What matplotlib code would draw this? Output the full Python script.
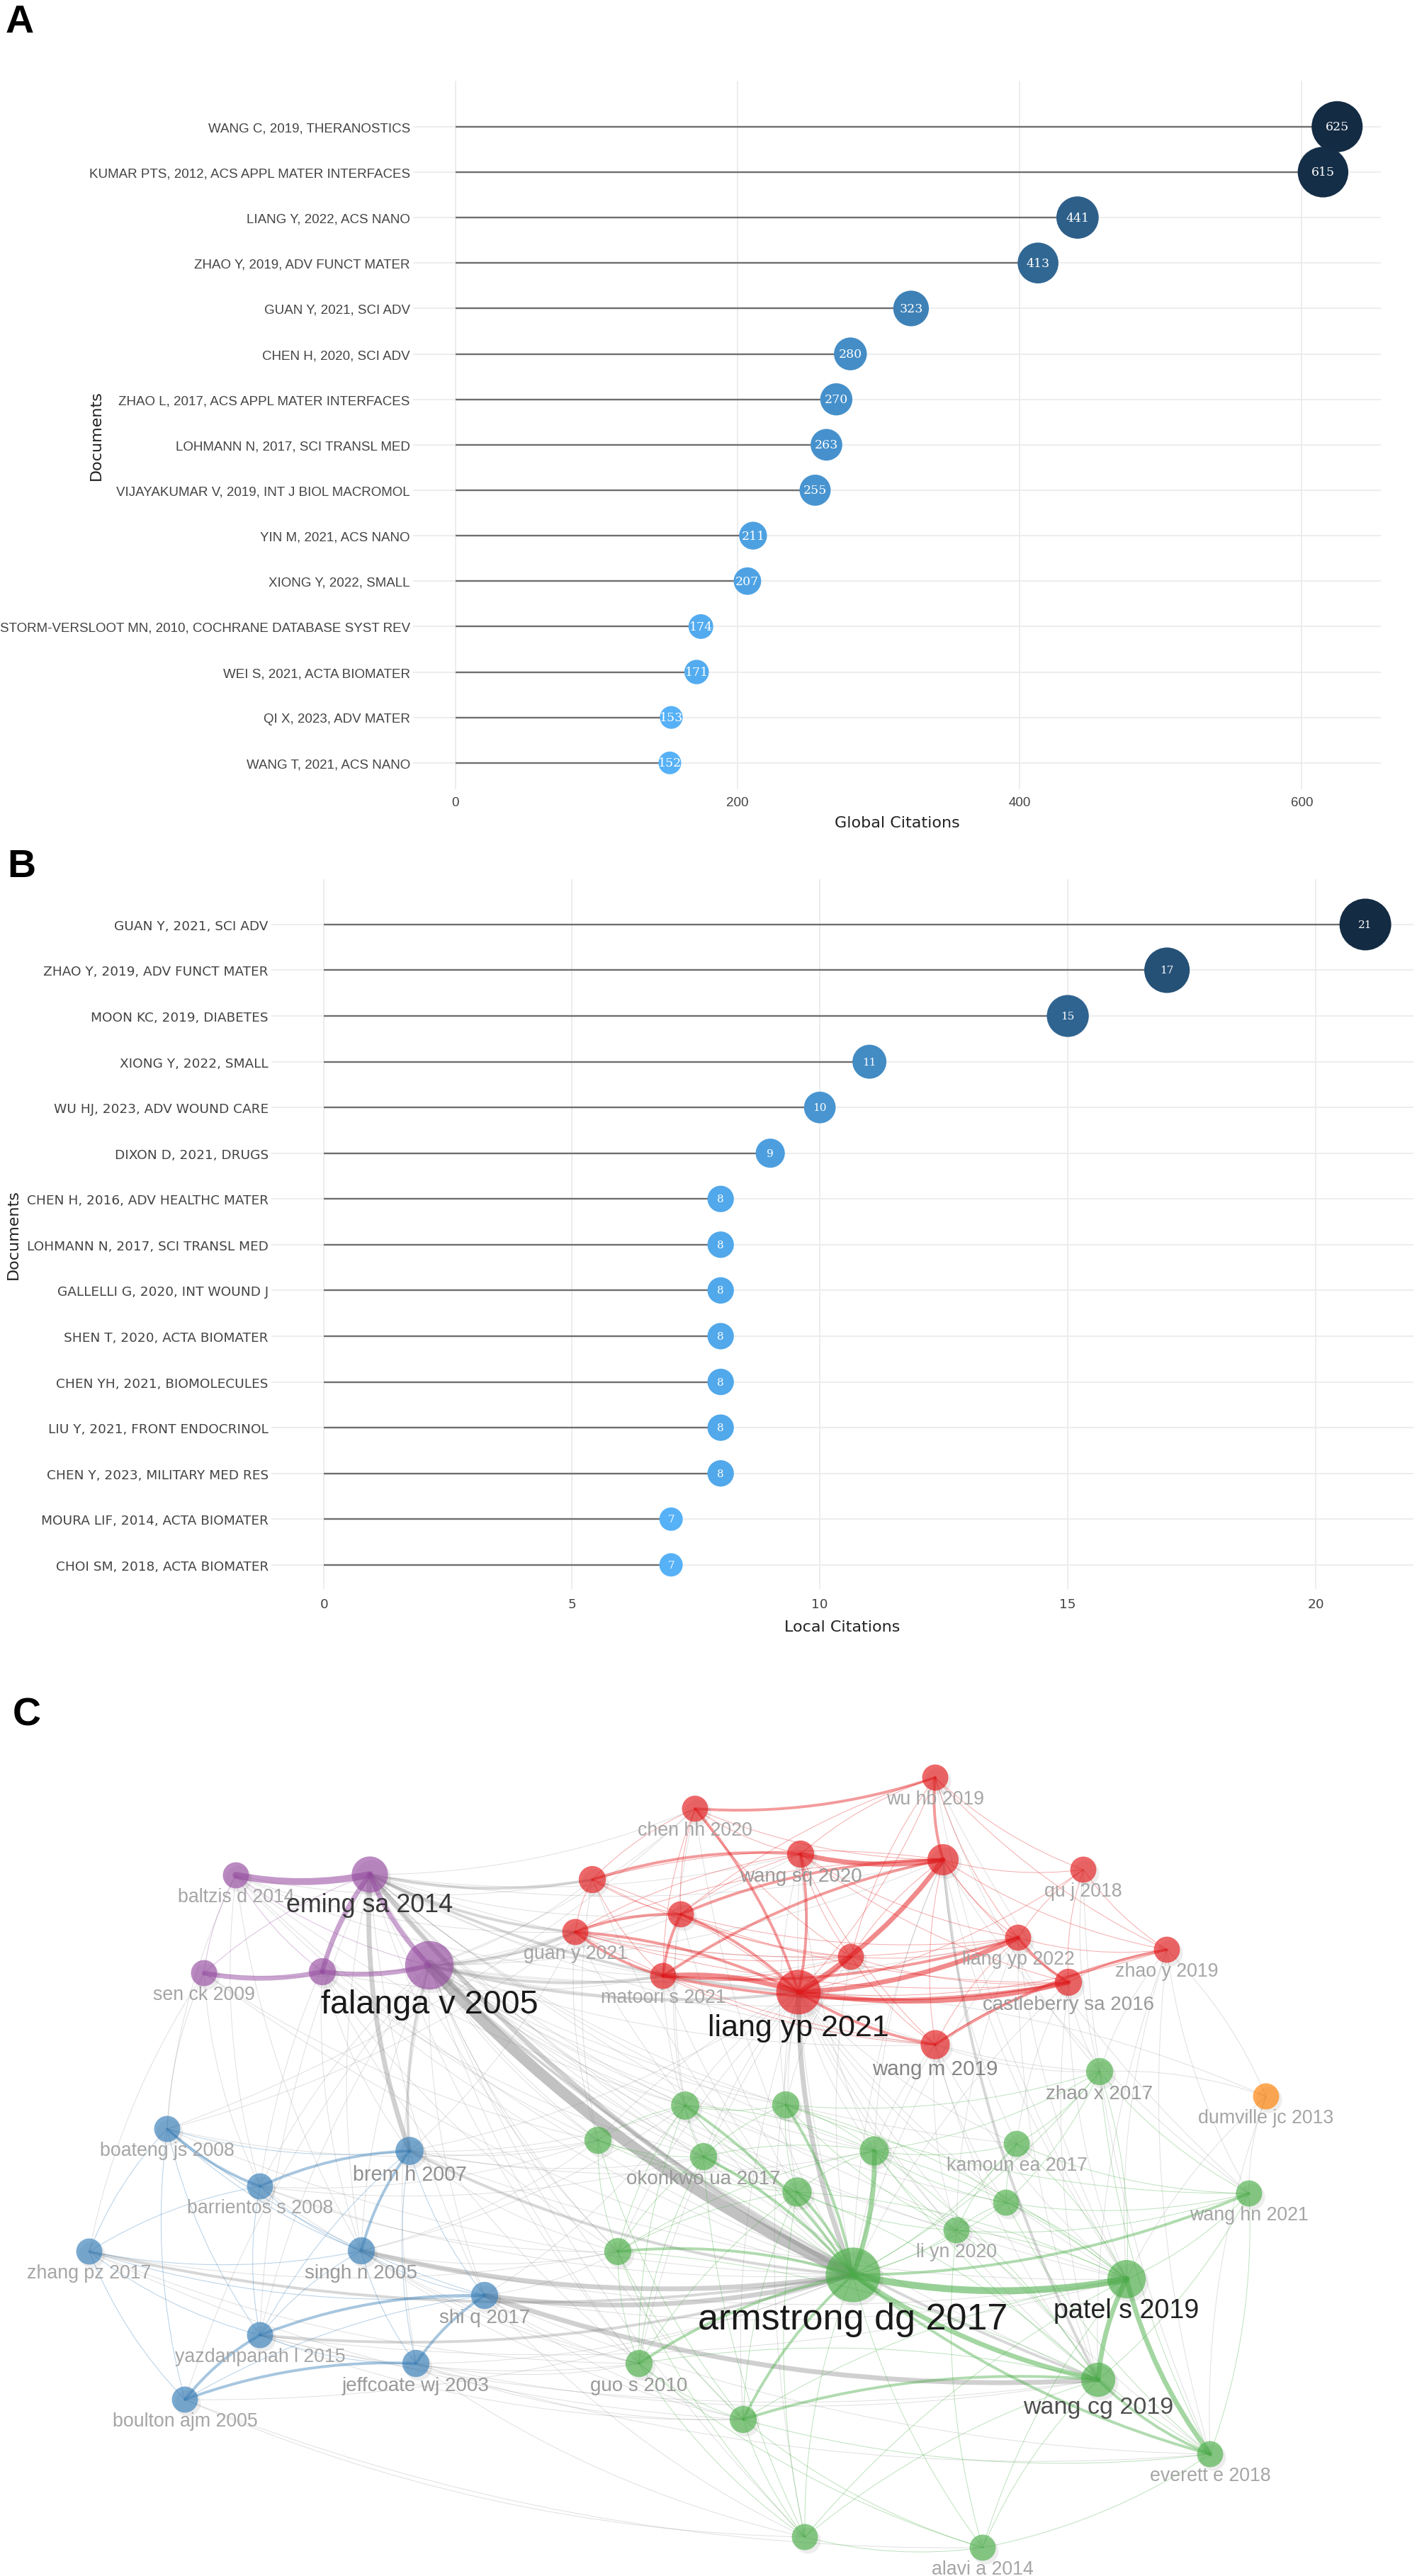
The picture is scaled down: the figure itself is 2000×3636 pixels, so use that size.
import numpy as np
import matplotlib
matplotlib.use("Agg")
import matplotlib.pyplot as plt
from matplotlib.patches import FancyArrowPatch, Circle
from matplotlib.colors import LinearSegmentedColormap

# ---------------- panel A data: most global cited documents ----------------
docs_a = ["WANG C, 2019, THERANOSTICS", "KUMAR PTS, 2012, ACS APPL MATER INTERFACES",
          "LIANG Y, 2022, ACS NANO", "ZHAO Y, 2019, ADV FUNCT MATER", "GUAN Y, 2021, SCI ADV",
          "CHEN H, 2020, SCI ADV", "ZHAO L, 2017, ACS APPL MATER INTERFACES",
          "LOHMANN N, 2017, SCI TRANSL MED", "VIJAYAKUMAR V, 2019, INT J BIOL MACROMOL",
          "YIN M, 2021, ACS NANO", "XIONG Y, 2022, SMALL",
          "STORM-VERSLOOT MN, 2010, COCHRANE DATABASE SYST REV", "WEI S, 2021, ACTA BIOMATER",
          "QI X, 2023, ADV MATER", "WANG T, 2021, ACS NANO"]
global_cit = [625, 615, 441, 413, 323, 280, 270, 263, 255, 211, 207, 174, 171, 153, 152]
ticks_a = [0, 200, 400, 600]

# ---------------- panel B data: most local cited documents ----------------
docs_b = ["GUAN Y, 2021, SCI ADV", "ZHAO Y, 2019, ADV FUNCT MATER", "MOON KC, 2019, DIABETES",
          "XIONG Y, 2022, SMALL", "WU HJ, 2023, ADV WOUND CARE", "DIXON D, 2021, DRUGS",
          "CHEN H, 2016, ADV HEALTHC MATER", "LOHMANN N, 2017, SCI TRANSL MED",
          "GALLELLI G, 2020, INT WOUND J", "SHEN T, 2020, ACTA BIOMATER",
          "CHEN YH, 2021, BIOMOLECULES", "LIU Y, 2021, FRONT ENDOCRINOL",
          "CHEN Y, 2023, MILITARY MED RES", "MOURA LIF, 2014, ACTA BIOMATER",
          "CHOI SM, 2018, ACTA BIOMATER"]
local_cit = [21, 17, 15, 11, 10, 9, 8, 8, 8, 8, 8, 8, 8, 7, 7]
ticks_b = [0, 5, 10, 15, 20]

# ---------------- panel C data: co-citation network ----------------
node_id = ["P1", "P2", "P3", "P4", "P5",
           "R1", "R2", "R3", "R4", "R5", "R6", "R7", "R8", "R9", "R10", "R11", "R12", "R13", "R14", "R15",
           "G1", "G2", "G3", "G4", "G5", "G6", "G7", "G8", "G9", "G10", "G11", "G12", "G13", "G14", "G15",
           "G16", "G17", "G18", "G19", "G20",
           "B1", "B2", "B3", "B4", "B5", "B6", "B7", "B8", "B9", "O1"]
node_label = ["baltzis d 2014", "eming sa 2014", "sen ck 2009", "", "falanga v 2005",
              "chen hh 2020", "wu hb 2019", "wang sq 2020", "", "", "", "guan y 2021", "matoori s 2021", "",
              "liang yp 2021", "qu j 2018", "liang yp 2022", "zhao y 2019", "castleberry sa 2016", "wang m 2019",
              "", "", "", "okonkwo ua 2017", "", "kamoun ea 2017", "", "", "li yn 2020", "",
              "armstrong dg 2017", "zhao x 2017", "patel s 2019", "guo s 2010", "", "", "alavi a 2014",
              "wang cg 2019", "everett e 2018", "wang hn 2021",
              "boateng js 2008", "brem h 2007", "barrientos s 2008", "zhang pz 2017", "singh n 2005",
              "shi q 2017", "yazdanpanah l 2015", "jeffcoate wj 2003", "boulton ajm 2005", "dumville jc 2013"]
node_x = [333, 522, 288, 455, 606,
          981, 1320, 1130, 1331, 836, 961, 812, 936, 1201, 1127, 1529, 1437, 1647, 1508, 1320,
          967, 1109, 844, 993, 1234, 1435, 1125, 1420, 1350, 872, 1204, 1552, 1590, 902, 1049,
          1136, 1387, 1550, 1708, 1763,
          236, 578, 367, 126, 510, 684, 367, 587, 261, 1787]
node_y = [2648, 2647, 2786, 2784, 2775,
          2554, 2510, 2618, 2626, 2654, 2703, 2728, 2790, 2763, 2813, 2640, 2736, 2753, 2799, 2887,
          2973, 2972, 3022, 3045, 3037, 3027, 3095, 3110, 3149, 3179, 3212, 2925, 3218, 3337, 3416,
          3582, 3597, 3360, 3465, 3097,
          3006, 3037, 3087, 3179, 3178, 3241, 3297, 3337, 3388, 2960]
node_cluster = ["purple"] * 5 + ["red"] * 15 + ["green"] * 20 + ["blue"] * 9 + ["orange"]
node_weight = [2, 12, 2, 3, 24,
               2, 2, 3, 7, 3, 2, 2, 2, 2, 20, 2, 2, 2, 3, 5,
               4, 3, 3, 3, 5, 2, 5, 2, 2, 3, 30, 3, 14, 3, 3,
               2, 2, 10, 2, 2,
               2, 4, 2, 2, 3, 3, 2, 3, 2, 2]

purple_edges = [("P1", "P2", 4), ("P1", "P4", 1), ("P1", "P3", 1), ("P1", "P5", 1), ("P2", "P4", 3),
                ("P2", "P5", 3), ("P3", "P4", 3), ("P4", "P5", 3), ("P2", "P3", 1)]
red_edges = [("R10", "R1", 2), ("R10", "R2", 1), ("R10", "R3", 2), ("R10", "R4", 3), ("R10", "R5", 1),
             ("R10", "R6", 2), ("R10", "R7", 2), ("R10", "R8", 3), ("R10", "R9", 2), ("R10", "R11", 1),
             ("R10", "R12", 3), ("R10", "R13", 1), ("R10", "R14", 3), ("R10", "R15", 2),
             ("R1", "R2", 2), ("R1", "R3", 1), ("R1", "R5", 1), ("R1", "R6", 1), ("R1", "R8", 1),
             ("R1", "R9", 1), ("R1", "R4", 1), ("R2", "R3", 1), ("R2", "R4", 2), ("R2", "R9", 1),
             ("R2", "R11", 1), ("R2", "R12", 1), ("R2", "R13", 1), ("R2", "R6", 1),
             ("R3", "R4", 3), ("R3", "R5", 2), ("R3", "R6", 1), ("R3", "R7", 1), ("R3", "R9", 1),
             ("R3", "R12", 1), ("R3", "R14", 1), ("R3", "R15", 1),
             ("R4", "R6", 2), ("R4", "R7", 1), ("R4", "R8", 2), ("R4", "R9", 1), ("R4", "R11", 1),
             ("R4", "R12", 1), ("R4", "R13", 1), ("R4", "R14", 1), ("R4", "R15", 1), ("R4", "R5", 1),
             ("R5", "R6", 1), ("R5", "R7", 1), ("R5", "R8", 1), ("R5", "R9", 1),
             ("R6", "R7", 2), ("R6", "R8", 2), ("R6", "R9", 1), ("R6", "R12", 1), ("R6", "R14", 1),
             ("R7", "R8", 2), ("R7", "R9", 1), ("R7", "R12", 1), ("R7", "R14", 1), ("R7", "R15", 1),
             ("R8", "R9", 1), ("R8", "R12", 2), ("R8", "R14", 2), ("R8", "R15", 1),
             ("R9", "R12", 1), ("R9", "R14", 1), ("R9", "R15", 1),
             ("R11", "R12", 1), ("R11", "R13", 1), ("R11", "R14", 1),
             ("R12", "R13", 1), ("R12", "R14", 2), ("R12", "R15", 1),
             ("R13", "R14", 1), ("R13", "R15", 2), ("R14", "R15", 1)]
green_edges = [("G11", "G1", 2), ("G11", "G2", 2), ("G11", "G3", 1), ("G11", "G4", 2), ("G11", "G5", 3),
               ("G11", "G6", 1), ("G11", "G7", 2), ("G11", "G8", 1), ("G11", "G9", 1), ("G11", "G10", 2),
               ("G11", "G12", 1), ("G11", "G13", 4), ("G11", "G14", 2), ("G11", "G15", 2), ("G11", "G16", 1),
               ("G11", "G17", 1), ("G11", "G18", 3), ("G11", "G19", 2), ("G11", "G20", 2),
               ("G13", "G18", 3), ("G13", "G19", 3), ("G13", "G20", 1), ("G13", "G5", 1), ("G13", "G6", 1),
               ("G13", "G8", 1), ("G13", "G9", 1), ("G13", "G12", 1), ("G13", "G7", 1), ("G13", "G2", 1),
               ("G13", "G15", 1), ("G13", "G17", 1), ("G13", "G16", 1),
               ("G18", "G19", 2), ("G18", "G15", 2), ("G18", "G5", 1), ("G18", "G7", 1), ("G18", "G9", 1),
               ("G18", "G10", 1), ("G18", "G14", 1), ("G18", "G16", 1), ("G18", "G17", 1), ("G18", "G20", 1),
               ("G5", "G1", 1), ("G5", "G2", 1), ("G5", "G4", 1), ("G5", "G6", 1), ("G5", "G7", 1),
               ("G5", "G8", 1), ("G5", "G9", 1), ("G5", "G10", 1), ("G5", "G12", 1), ("G5", "G19", 1),
               ("G1", "G2", 1), ("G1", "G3", 1), ("G1", "G4", 1), ("G1", "G7", 1), ("G1", "G10", 1),
               ("G1", "G14", 1), ("G2", "G4", 1), ("G2", "G7", 1), ("G2", "G9", 1), ("G2", "G12", 1),
               ("G2", "G20", 1), ("G3", "G4", 1), ("G3", "G10", 1), ("G3", "G7", 1), ("G3", "G15", 1),
               ("G4", "G7", 1), ("G4", "G10", 1), ("G4", "G14", 1), ("G4", "G16", 1),
               ("G6", "G8", 1), ("G6", "G9", 1), ("G6", "G12", 1), ("G6", "G20", 1),
               ("G7", "G9", 1), ("G7", "G10", 1), ("G7", "G14", 1), ("G7", "G15", 1), ("G7", "G16", 1),
               ("G8", "G9", 1), ("G8", "G12", 1), ("G8", "G19", 1), ("G8", "G20", 1),
               ("G9", "G20", 1), ("G9", "G17", 1), ("G10", "G14", 1), ("G10", "G16", 1), ("G10", "G15", 1),
               ("G12", "G20", 1), ("G12", "G19", 1), ("G14", "G15", 1), ("G14", "G16", 1), ("G14", "G17", 1),
               ("G15", "G16", 1), ("G15", "G17", 1), ("G15", "G19", 1), ("G16", "G17", 1),
               ("G17", "G19", 1), ("G19", "G20", 1)]
blue_edges = [("B1", "B3", 2), ("B1", "B2", 1), ("B1", "B4", 1), ("B1", "B5", 1), ("B1", "B7", 1),
              ("B1", "B9", 1), ("B1", "B6", 1), ("B2", "B3", 2), ("B2", "B5", 2), ("B2", "B6", 1),
              ("B2", "B8", 1), ("B2", "B7", 1), ("B3", "B5", 1), ("B3", "B7", 1), ("B3", "B4", 1),
              ("B4", "B5", 1), ("B4", "B7", 1), ("B4", "B9", 1), ("B4", "B6", 1), ("B5", "B6", 1),
              ("B5", "B7", 1), ("B5", "B8", 1), ("B6", "B7", 2), ("B6", "B8", 2), ("B6", "B9", 1),
              ("B7", "B8", 1), ("B7", "B9", 2), ("B8", "B9", 2)]
cross_edges = [("P1", "R5", 1), ("P1", "R7", 1), ("P1", "G1", 1), ("P1", "G3", 1), ("P1", "B1", 1),
               ("P1", "B3", 1), ("P1", "B5", 1), ("P1", "G11", 1), ("P1", "R8", 1),
               ("P2", "R5", 2), ("P2", "R7", 2), ("P2", "R1", 1), ("P2", "R6", 1), ("P2", "R8", 1),
               ("P2", "R10", 2), ("P2", "R3", 1), ("P2", "G1", 1), ("P2", "G2", 1), ("P2", "G3", 1),
               ("P2", "G11", 3), ("P2", "B2", 3), ("P2", "B5", 1), ("P2", "B6", 1), ("P2", "G14", 1),
               ("P2", "G10", 1), ("P2", "R4", 1), ("P2", "G4", 1), ("P2", "G5", 1), ("P2", "G7", 1),
               ("P2", "R9", 1), ("P2", "R15", 1), ("P2", "G13", 1), ("P2", "G18", 1), ("P2", "B3", 1),
               ("P2", "B7", 1),
               ("P3", "B1", 1), ("P3", "B4", 1), ("P3", "B3", 1), ("P3", "G3", 1), ("P3", "G11", 1),
               ("P3", "R7", 1), ("P4", "R7", 1), ("P4", "R8", 1), ("P4", "G11", 1), ("P4", "B2", 1),
               ("P4", "B5", 1), ("P4", "G10", 1), ("P4", "G4", 1), ("P4", "G14", 1),
               ("P5", "G11", 6), ("P5", "R7", 2), ("P5", "R8", 2), ("P5", "R10", 2), ("P5", "R5", 1),
               ("P5", "R6", 1), ("P5", "R9", 1), ("P5", "R3", 1), ("P5", "R1", 1), ("P5", "G1", 1),
               ("P5", "G2", 1), ("P5", "G3", 1), ("P5", "G4", 1), ("P5", "G5", 1), ("P5", "G7", 1),
               ("P5", "G10", 1), ("P5", "G14", 1), ("P5", "G18", 2), ("P5", "G13", 1), ("P5", "B2", 2),
               ("P5", "B5", 1), ("P5", "B6", 1), ("P5", "B3", 1), ("P5", "B8", 1), ("P5", "R15", 1),
               ("P5", "G8", 1), ("P5", "R4", 1), ("P5", "G9", 1), ("P5", "G15", 1), ("P5", "G16", 1),
               ("P5", "R12", 1), ("P5", "R14", 1), ("P5", "B7", 1), ("P5", "B9", 1), ("P5", "G6", 1),
               ("R10", "G1", 1), ("R10", "G2", 1), ("R10", "G4", 1), ("R10", "G5", 1), ("R10", "G7", 1),
               ("R10", "G11", 3), ("R10", "G13", 1), ("R10", "G18", 1), ("R10", "G12", 1), ("R10", "G9", 1),
               ("R10", "G14", 1), ("R10", "G3", 1), ("R10", "G10", 1), ("R10", "G15", 1), ("R10", "G16", 1),
               ("R10", "G6", 1), ("R10", "G8", 1), ("R10", "G19", 1),
               ("R15", "G12", 1), ("R15", "G11", 1), ("R15", "G13", 1), ("R15", "G18", 1),
               ("R15", "G5", 1), ("R15", "G9", 1), ("R15", "G8", 1), ("R14", "G11", 1), ("R14", "G18", 1),
               ("R14", "G13", 1), ("R14", "G6", 1), ("R14", "G12", 1),
               ("R13", "G12", 1), ("R13", "G13", 1), ("R13", "G20", 1), ("R13", "G19", 1), ("R13", "G18", 1),
               ("R12", "G11", 1), ("R12", "G13", 1), ("R12", "G18", 1), ("R12", "G9", 1),
               ("R9", "G11", 1), ("R9", "G2", 1), ("R4", "G11", 1), ("R4", "G13", 1), ("R4", "G18", 2),
               ("R4", "G5", 1), ("R4", "G6", 1), ("R4", "G20", 1), ("R3", "G11", 1), ("R3", "G2", 1),
               ("R3", "G5", 1), ("R1", "G1", 1), ("R1", "G11", 1), ("R6", "G11", 1), ("R6", "G1", 1),
               ("R5", "G3", 1), ("R5", "G11", 1), ("R7", "G11", 1), ("R7", "G3", 1), ("R8", "G11", 1),
               ("R8", "G4", 1), ("R2", "G20", 1), ("R2", "G13", 1), ("R2", "G12", 1), ("R11", "G12", 1),
               ("R11", "G19", 1),
               ("B1", "G3", 1), ("B1", "R7", 1), ("B1", "G11", 1), ("B1", "R1", 1),
               ("B2", "G11", 2), ("B2", "G1", 1), ("B2", "G3", 1), ("B2", "G4", 1), ("B2", "G5", 1),
               ("B2", "R10", 1), ("B2", "R7", 1), ("B2", "G10", 1), ("B2", "G13", 1),
               ("B3", "G11", 1), ("B3", "G3", 1), ("B3", "G4", 1), ("B3", "G10", 1), ("B3", "G14", 1),
               ("B4", "G11", 2), ("B4", "G10", 1), ("B4", "G14", 1), ("B4", "G15", 1),
               ("B5", "G11", 3), ("B5", "G13", 1), ("B5", "G3", 1), ("B5", "G10", 1), ("B5", "G14", 1),
               ("B5", "G1", 1), ("B5", "G15", 1),
               ("B6", "G11", 3), ("B6", "G18", 3), ("B6", "G14", 1), ("B6", "G10", 1), ("B6", "G13", 1),
               ("B6", "G15", 1), ("B6", "G19", 1), ("B6", "G1", 1), ("B6", "G16", 1),
               ("B7", "G11", 2), ("B7", "G14", 1), ("B7", "G18", 1), ("B7", "G15", 1), ("B7", "G13", 1),
               ("B8", "G11", 1), ("B8", "G14", 1), ("B8", "G16", 1), ("B8", "G18", 1), ("B8", "G15", 1),
               ("B8", "G19", 1), ("B9", "G16", 1), ("B9", "G17", 1), ("B9", "G11", 1),
               ("O1", "G20", 1), ("O1", "G13", 1), ("O1", "R13", 1), ("O1", "G12", 1), ("O1", "G19", 1),
               ("O1", "R10", 1)]

cluster_colors = {"red": "#E41A1C", "green": "#4DAF4A", "blue": "#377EB8",
                  "purple": "#984EA3", "orange": "#FF7F00"}

W, H = 2000, 3637
fig = plt.figure(figsize=(W / 100, H / 100), dpi=100)
fig.patch.set_facecolor("white")
cmap = LinearSegmentedColormap.from_list("gg", ["#56B1F7", "#132B43"])


def px_axes(left, top, right, bottom):
    return fig.add_axes([left / W, 1 - bottom / H, (right - left) / W, (bottom - top) / H])


def lollipop(ax, labels, values, rmin, rmax, lab_font, lab_size, num_size, xticks, xpad):
    y = np.arange(len(values))
    v = np.array(values, dtype=float)
    t = (v - v.min()) / (v.max() - v.min())
    r2 = rmin ** 2 + t * (rmax ** 2 - rmin ** 2)
    ax.hlines(y, 0, v, color="#6e6e6e", lw=1.7, zorder=2)
    ax.scatter(v, y, s=(1.44 ** 2) * r2, c=cmap(t), edgecolors="none", zorder=3)
    for xi, yi, val in zip(v, y, values):
        ax.text(xi, yi, str(val), ha="center", va="center", color="white",
                family="DejaVu Serif", fontsize=num_size, zorder=4)
    ax.set_yticks(y)
    ax.set_yticklabels(labels, family=lab_font, fontsize=lab_size, color="#444444")
    ax.set_xticks(xticks)
    ax.set_xticklabels([str(x) for x in xticks], family=lab_font, fontsize=lab_size, color="#444444")
    ax.tick_params(axis="both", length=0)
    ax.tick_params(axis="y", pad=3)
    ax.tick_params(axis="x", pad=xpad)
    ax.grid(True, color="#ececec", lw=1.3)
    ax.set_axisbelow(True)
    for s in ax.spines.values():
        s.set_visible(False)


# ---- panel A ----
axa = px_axes(583, 115, 1949, 1115)
lollipop(axa, docs_a, global_cit, 16, 36, "Liberation Sans", 13.5, 12.5, ticks_a, 7)
axa.set_xlim(-30, 656)
axa.set_ylim(14.58, -1.01)
fig.text(1266 / W, 1 - 1162 / H, "Global Citations", ha="center", va="center",
         fontsize=16, color="#222222", family="DejaVu Sans")
fig.text(136 / W, 1 - 615 / H, "Documents", ha="center", va="center", rotation=90,
         fontsize=16, color="#222222", family="DejaVu Sans")

# ---- panel B ----
axb = px_axes(383, 1242, 1995, 2244)
lollipop(axb, docs_b, local_cit, 16.5, 36.5, "DejaVu Sans", 13.3, 11, ticks_b, 9)
axb.set_xlim(-1.06, 21.97)
axb.set_ylim(14.53, -0.99)
fig.text(1189 / W, 1 - 2297 / H, "Local Citations", ha="center", va="center",
         fontsize=16, color="#222222", family="DejaVu Sans")
fig.text(19 / W, 1 - 1743 / H, "Documents", ha="center", va="center", rotation=90,
         fontsize=16, color="#222222", family="DejaVu Sans")

# ---- panel C: network ----
axc = fig.add_axes([0, 0, 1, (H - 2440) / H])
axc.set_xlim(0, W)
axc.set_ylim(H, 2440)
axc.axis("off")

idx = {k: i for i, k in enumerate(node_id)}
radius = [17 + 0.72 * w for w in node_weight]

all_edges = cross_edges + purple_edges + red_edges + green_edges + blue_edges
for a, b, w in all_edges:
    i, j = idx[a], idx[b]
    same = node_cluster[i] == node_cluster[j]
    if same:
        col = cluster_colors[node_cluster[i]]
        alpha = min(0.3 + 0.07 * w, 0.6)
        z = 2
    else:
        col = "#858585"
        alpha = min(0.2 + 0.06 * w, 0.5)
        z = 1
    e = FancyArrowPatch((node_x[i], node_y[i]), (node_x[j], node_y[j]),
                        connectionstyle="arc3,rad=0.1", arrowstyle="-",
                        lw=0.7 + 2.1 * (w - 1), color=col, alpha=alpha,
                        shrinkA=0, shrinkB=0, zorder=z)
    axc.add_patch(e)

for i in range(len(node_id)):
    r = radius[i]
    axc.add_patch(Circle((node_x[i] + 4, node_y[i] + 5), r, color="black", alpha=0.07, lw=0, zorder=4))
    axc.add_patch(Circle((node_x[i], node_y[i]), r, facecolor=cluster_colors[node_cluster[i]],
                         alpha=0.66, edgecolor="none", zorder=5))
    if node_label[i]:
        w = node_weight[i]
        g = float(np.clip(0.72 - 0.045 * w, 0.05, 0.66))
        axc.text(node_x[i], node_y[i] + r - 1, node_label[i], ha="center", va="top",
                 fontsize=18 + 0.65 * w, color=(g, g, g), alpha=0.95,
                 family="Liberation Sans", zorder=6)

# ---- panel letters ----
for letter, (lx, ly) in {"A": (8, 6), "B": (10, 1198), "C": (18, 2396)}.items():
    fig.text(lx / W, 1 - ly / H, letter, ha="left", va="top", fontsize=40,
             fontweight="bold", family="Liberation Sans", color="black")

fig.savefig("out.png", dpi=100, facecolor="white")
